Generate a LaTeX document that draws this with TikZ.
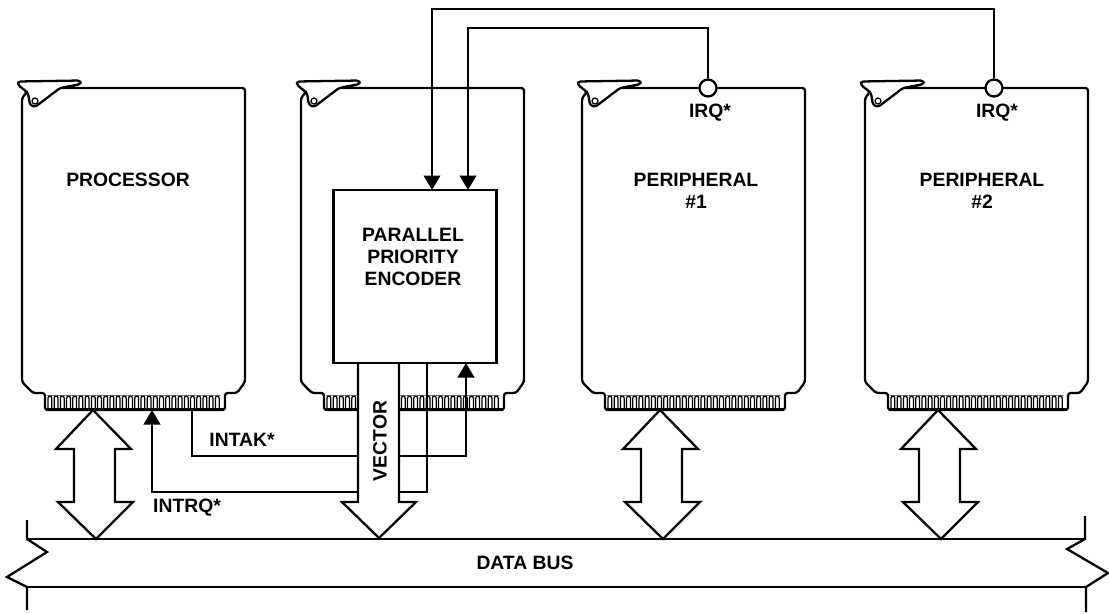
\documentclass[tikz,border=0pt]{standalone}
\usepackage{fontspec}
\setmainfont{Liberation Sans}
\usetikzlibrary{arrows.meta}
\tikzset{
    sig/.style={line width=1.3pt},
    sigarrow/.style={sig, -{Triangle[length=0.29cm, width=0.33cm]}},
    card/.style={line width=1.3pt, rounded corners=1.5pt, line join=round},
    finger/.style={line width=0.7pt, rounded corners=1.2pt},
    busarrow/.style={line width=1.3pt, fill=white, line join=miter},
    irq/.style={circle, draw, line width=1.3pt, fill=white, minimum size=0.34cm, inner sep=0pt},
    encbox/.style={draw, line width=1.3pt, fill=white, minimum width=3.26cm, minimum height=3.46cm},
    lbl/.style={font=\fontsize{11}{12.5}\selectfont\bfseries, align=center, inner sep=0pt}
}
\begin{document}
\begin{tikzpicture}[x=0.02cm, y=-0.02cm]
    \useasboundingbox (0, 0) rectangle (1109, 613);
    \foreach \l in {22, 301, 582, 865} {
        \begin{scope}[shift={(\l, 0)}]
            \draw[card] (38, 88) -- (223, 88) -- (223, 382) -- (215, 393) -- (203, 393) -- (203, 410)
                -- (23, 410) -- (23, 393) -- (11, 393) -- (0, 382) -- (0, 98) -- (5, 92) -- (-4, 85)
                -- (-4, 81.5) -- (58, 80.5) -- (59, 84) -- (38, 88) -- (13, 107) -- (8, 105) -- (6, 93) -- (5, 92);
            \draw[line width=0.7pt] (13, 101) circle (3);
            \foreach \i [evaluate=\i as \f using 26+6.2*\i] in {0, ..., 27} {
                \draw[finger] (\f, 409) -- ++(0, -13) -- ++(3.8, 0) -- ++(0, 13);
            }
            \draw[line width=1.6pt] (24, 409.5) -- (202, 409.5);
        \end{scope}
    }
    \node[encbox] (encoder) at (415, 276.5) {};
    \node[irq] (irq1) at (708, 88) {};
    \node[irq] (irq2) at (994, 88) {};
    \coordinate (enc in1) at (432, 190);
    \coordinate (enc in2) at (468, 190);
    \coordinate (enc ack) at (466, 363);
    \coordinate (enc req) at (427, 363);
    \coordinate (proc ack) at (192, 410);
    \coordinate (proc req) at (152, 410);
    \draw[sigarrow] (irq2.north) |- (432, 9) -- (enc in1);
    \draw[sigarrow] (irq1.north) |- (468, 28) -- (enc in2);
    \draw[sigarrow] (proc ack) |- (466, 456) -- (enc ack);
    \draw[sigarrow] (enc req) |- (152, 492) -- (proc req);
    \draw[busarrow] (358, 364) -- (358, 502) -- (342, 502) -- (379, 538) -- (416, 502) -- (399, 502) -- (399, 364);
    \foreach \x/\n in {93/proc, 660/per1, 938/per2} {
        \coordinate (\n tip) at (\x, 410);
        \draw[busarrow] (\n tip) -- ++(38, 39) -- ++(-16, 0) -- ++(0, 53) -- ++(18, 0) -- ++(-37, 37)
            -- ++(-38, -37) -- ++(16, 0) -- ++(0, -53) -- ++(-18, 0) -- cycle;
    }
    \draw[sig] (27, 520) -- (27, 539) -- (47, 552) -- (7, 577) -- (27, 587) -- (27, 610);
    \draw[sig] (1085, 516) -- (1085, 539) -- (1067, 549) -- (1108, 573) -- (1086, 587) -- (1086, 612);
    \draw[sig] (27, 539) -- (1085, 539);
    \draw[sig] (27, 587) -- (1086, 587);
    \node[lbl] (proclabel) at (128, 180) {PROCESSOR};
    \node[lbl] (enclabel) at (413, 257) {PARALLEL\\PRIORITY\\ENCODER};
    \node[lbl] (per1label) at (696, 191) {PERIPHERAL\\\#1};
    \node[lbl] (per2label) at (982, 191) {PERIPHERAL\\\#2};
    \node[lbl] (irq1label) at (710, 113) {IRQ*};
    \node[lbl] (irq2label) at (997, 113) {IRQ*};
    \node[lbl] (intaklabel) at (242, 440) {INTAK*};
    \node[lbl] (intrqlabel) at (187, 508) {INTRQ*};
    \node[lbl, rotate=90] (vectorlabel) at (380, 441) {VECTOR};
    \node[lbl] (buslabel) at (525, 563) {DATA BUS};
\end{tikzpicture}
\end{document}
